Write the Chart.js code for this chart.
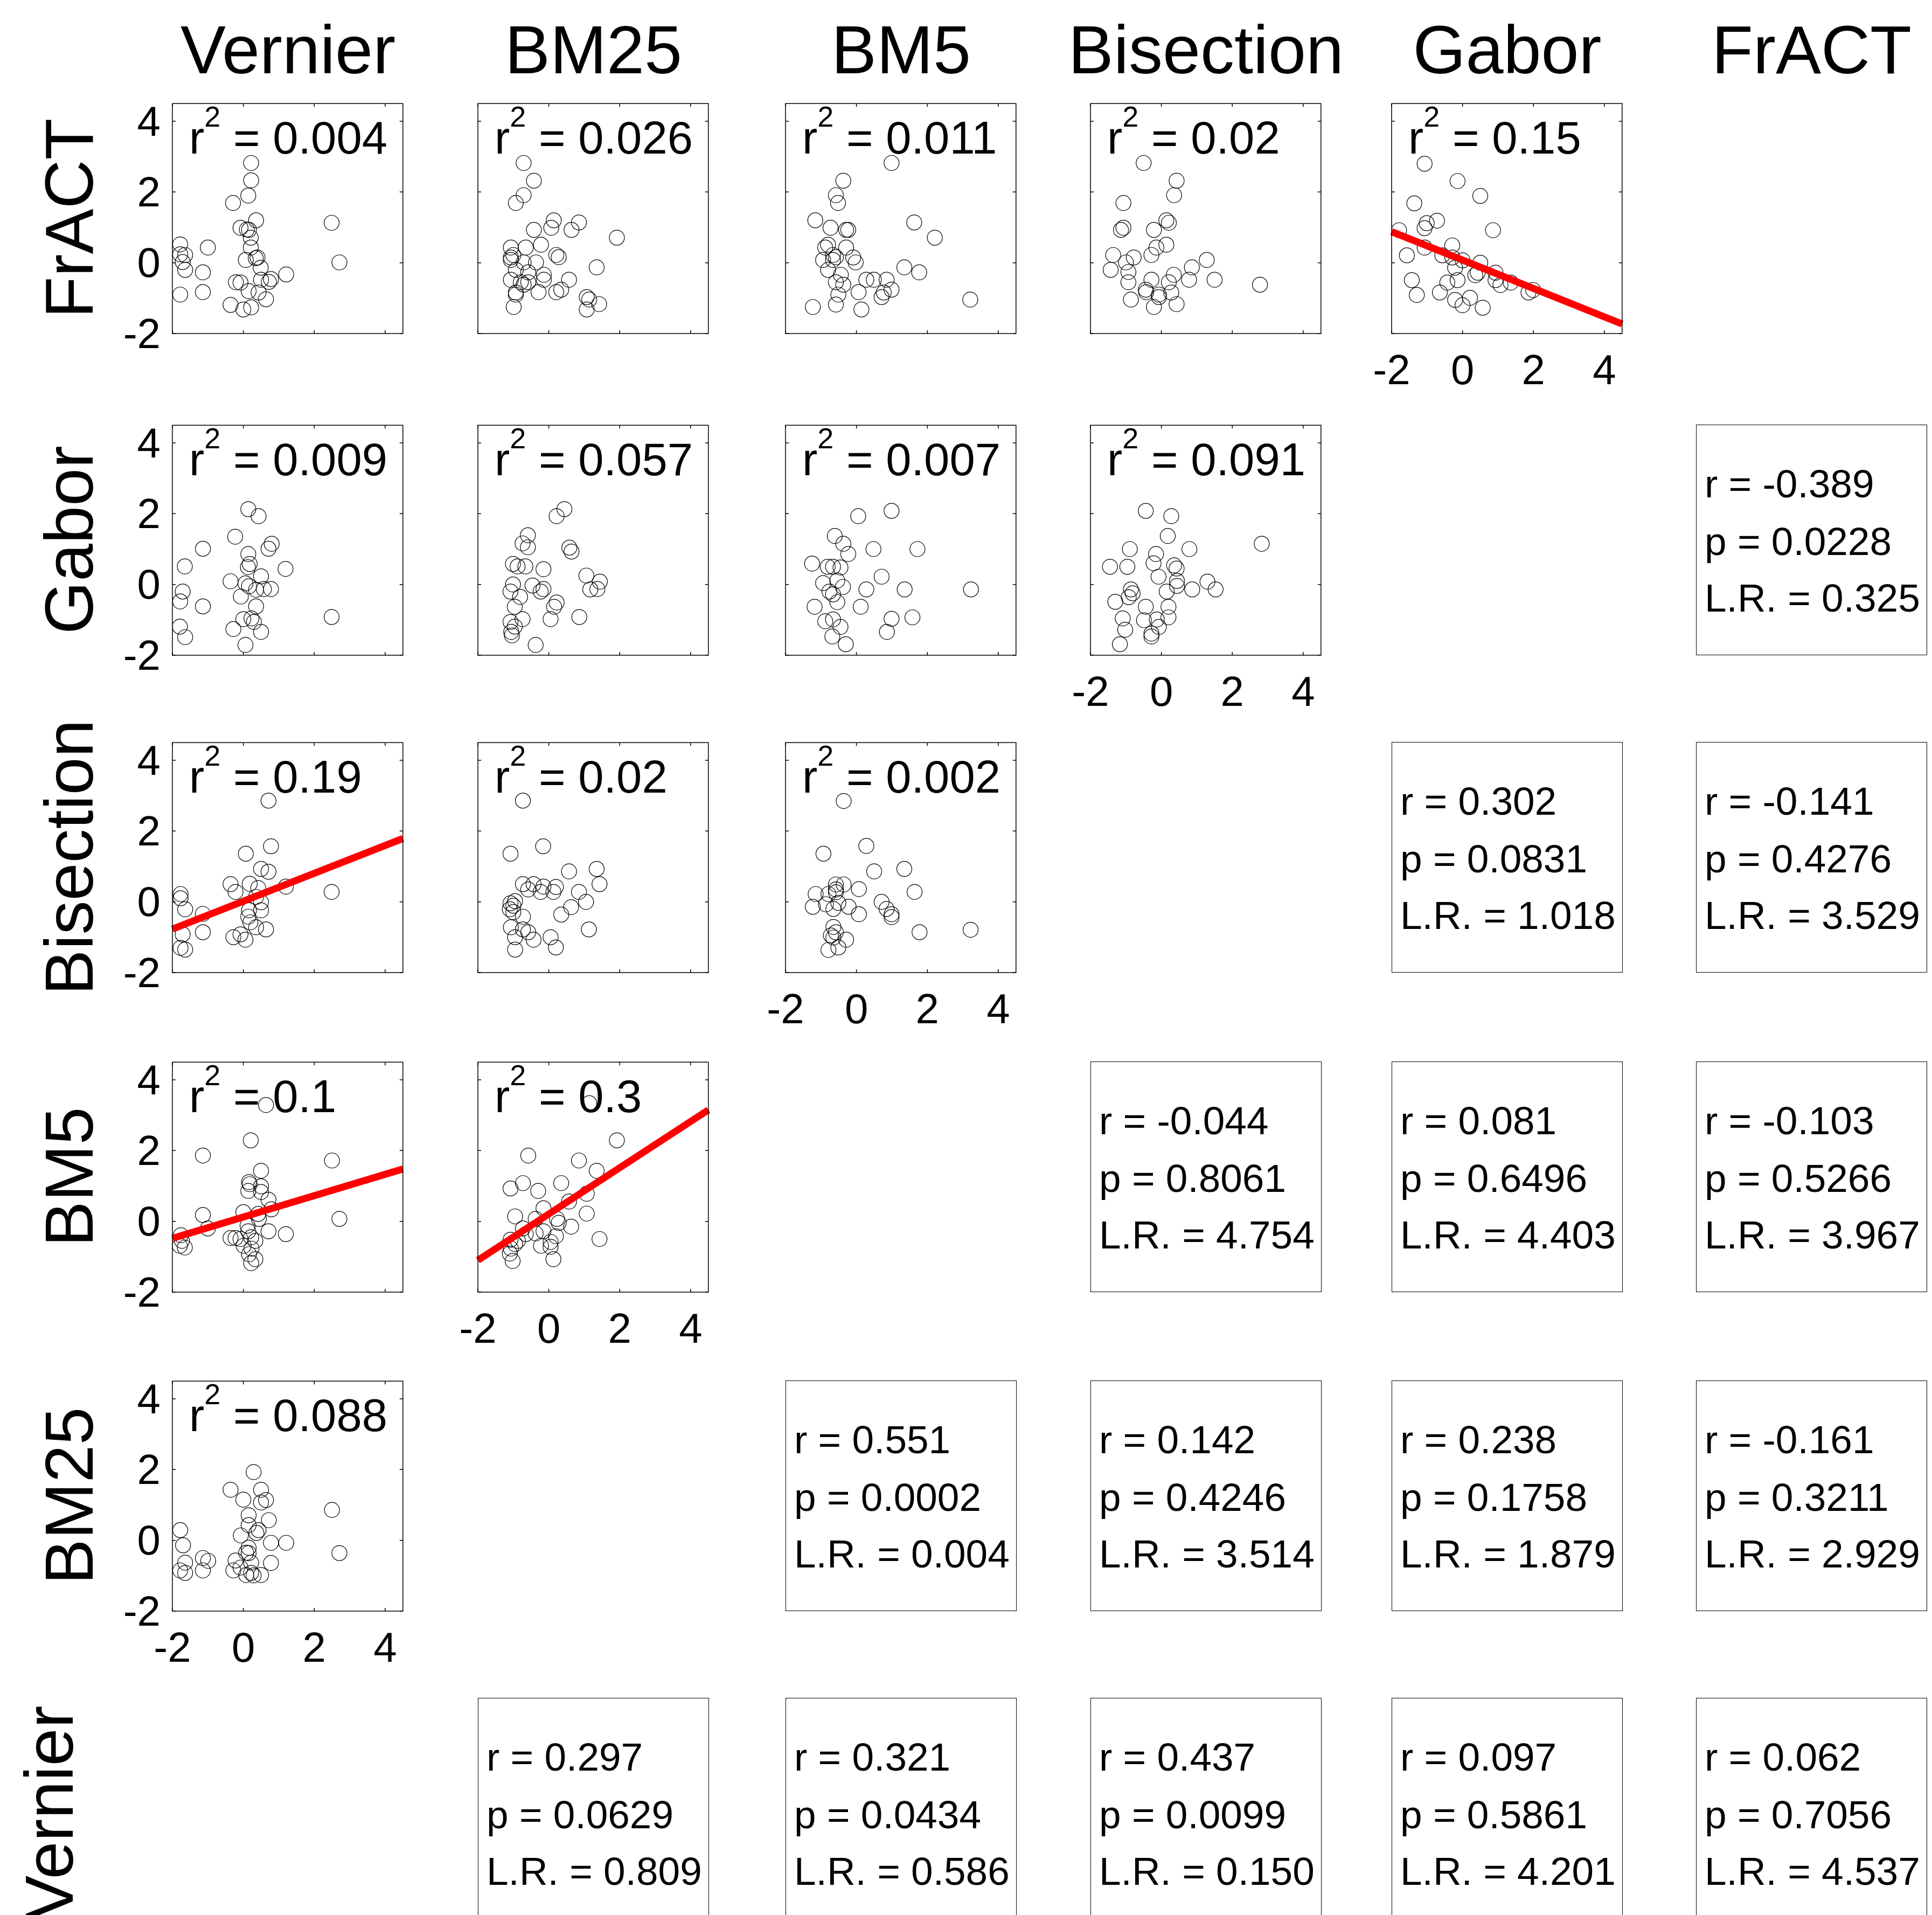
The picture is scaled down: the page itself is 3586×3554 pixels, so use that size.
<!DOCTYPE html>
<html>
<head>
<meta charset="utf-8">
<title>Correlations between tasks</title>
<script src="https://cdn.jsdelivr.net/npm/chart.js@4.4.1/dist/chart.umd.min.js"></script>
<style>
  html, body { margin: 0; padding: 0; background: #fff; }
  body { width: 3586px; height: 3554px; overflow: hidden; position: relative;
         font-family: 'Liberation Sans', Arial, sans-serif; color: #000; }
  .panel { position: absolute; }
  .title { position: absolute; top: 30px; width: 600px; font-size: 126px; line-height: 1;
           text-align: center; white-space: nowrap; }
  .rowLabel { position: absolute; width: 700px; height: 126px; font-size: 126px; line-height: 1;
              text-align: center; white-space: nowrap; transform: rotate(-90deg); }
  .r2 { position: absolute; font-size: 85px; line-height: 1; white-space: nowrap; }
  .r2 sup { font-size: 54px; vertical-align: baseline; position: relative; top: -50px; }
  .stats { position: absolute; box-sizing: border-box; width: 429px; height: 428px;
           border: 1.5px solid #000; }
  .stats div { position: absolute; left: 15px; font-size: 73px; line-height: 1; white-space: nowrap; }
</style>
</head>
<body>
<script>
// column variables (x) and row variables (y)
const colMeasures = ['Vernier', 'BM25', 'BM5', 'Bisection', 'Gabor', 'FrACT']
const rowMeasures = ['FrACT', 'Gabor', 'Bisection', 'BM5', 'BM25', 'Vernier']
const axisTicks = [-2, 0, 2, 4]

// scatter points [x, y] (z-scores)
const fractVernier = [[0.22,2.82],[0.22,2.33],[0.14,1.90],[-0.29,1.69],[0.36,1.20],[2.49,1.13],[-0.08,0.99],[0.10,0.94],[0.16,0.93],[0.21,0.71],[-1.78,0.52],[-1.00,0.43],[0.21,0.43],[-1.78,0.24],[-1.64,0.22],[0.40,0.15],[0.35,0.13],[0.07,0.08],[-1.71,0.02],[2.71,0.01],[0.49,-0.14],[-1.64,-0.20],[-1.14,-0.27],[1.21,-0.33],[0.50,-0.48],[0.78,-0.46],[0.72,-0.54],[-0.21,-0.55],[-0.08,-0.56],[0.15,-0.80],[0.43,-0.84],[-1.78,-0.90],[-1.14,-0.83],[0.64,-1.03],[-0.36,-1.19],[0.00,-1.32],[0.22,-1.26]]
const fractBm25 = [[-0.71,2.82],[-0.42,2.32],[-0.71,1.91],[-0.93,1.69],[0.14,1.20],[0.85,1.14],[0.07,0.99],[-0.42,0.93],[0.64,0.93],[1.92,0.71],[-1.07,0.43],[-0.65,0.43],[-0.22,0.51],[0.21,0.22],[0.28,0.16],[-1.00,0.22],[-1.07,0.15],[-1.07,0.08],[-0.71,0.01],[-0.36,0.01],[-0.93,-0.20],[-0.58,-0.27],[1.35,-0.13],[-0.14,-0.34],[-0.14,-0.48],[-1.07,-0.48],[-0.79,-0.55],[-0.58,-0.55],[-0.71,-0.62],[0.57,-0.48],[-0.93,-0.84],[-0.93,-0.90],[-0.29,-0.83],[0.21,-0.83],[0.35,-0.76],[1.07,-0.97],[1.14,-1.04],[1.42,-1.17],[1.07,-1.32],[-0.99,-1.25]]
const fractBm5 = [[0.99,2.82],[-0.37,2.32],[-0.58,1.91],[-0.52,1.69],[-1.16,1.20],[1.63,1.14],[-0.73,0.99],[-0.29,0.93],[-0.23,0.93],[2.21,0.71],[-0.80,0.51],[-0.88,0.43],[-0.29,0.43],[-0.66,0.22],[-0.58,0.16],[-0.94,0.08],[-0.66,0.08],[-0.09,0.15],[-0.02,0.01],[-0.80,-0.20],[1.35,-0.13],[1.77,-0.27],[-0.44,-0.34],[-0.58,-0.55],[-0.37,-0.62],[0.28,-0.48],[0.49,-0.48],[0.85,-0.48],[0.99,-0.76],[0.77,-0.84],[0.71,-0.97],[0.06,-0.83],[-0.51,-0.90],[-0.58,-1.18],[-1.23,-1.25],[0.14,-1.32],[3.21,-1.04]]
const fractBisection = [[-0.50,2.82],[0.43,2.32],[0.36,1.91],[-1.07,1.69],[0.14,1.20],[0.21,1.13],[-1.07,0.99],[-1.14,0.93],[-0.21,0.93],[0.14,0.51],[-0.14,0.43],[-0.28,0.22],[-1.36,0.22],[-0.78,0.15],[-1.00,0.01],[1.28,0.08],[-1.43,-0.20],[-0.93,-0.26],[0.86,-0.13],[0.35,-0.34],[-0.28,-0.48],[0.78,-0.48],[1.50,-0.48],[-0.93,-0.55],[0.21,-0.55],[2.78,-0.62],[-0.44,-0.76],[-0.43,-0.83],[0.28,-0.84],[-0.07,-0.90],[-0.07,-0.97],[-0.86,-1.04],[0.43,-1.17],[-0.21,-1.25]]
const fractGabor = [[-1.07,2.80],[-0.14,2.31],[0.50,1.89],[-1.36,1.68],[-1.01,1.12],[-0.72,1.19],[-1.07,0.98],[-1.79,0.92],[0.86,0.92],[-0.29,0.49],[-1.07,0.43],[-1.57,0.21],[-0.57,0.21],[-0.29,0.15],[0.00,0.07],[0.50,0.00],[-0.21,-0.14],[0.43,-0.28],[0.36,-0.35],[0.93,-0.28],[-1.43,-0.49],[-0.14,-0.49],[-0.43,-0.56],[0.93,-0.49],[1.07,-0.63],[1.36,-0.56],[1.86,-0.84],[1.99,-0.77],[-0.64,-0.84],[-1.29,-0.91],[0.21,-0.99],[-0.21,-1.05],[0.00,-1.20],[0.57,-1.27]]
const gaborVernier = [[0.14,2.13],[0.43,1.93],[-0.23,1.35],[-1.14,1.01],[0.80,1.15],[0.71,1.01],[0.14,0.86],[-1.65,0.51],[0.18,0.58],[0.13,0.49],[1.19,0.44],[0.50,0.23],[-0.36,0.09],[0.06,0.03],[0.16,-0.05],[-1.71,-0.20],[0.36,-0.15],[0.58,-0.13],[0.78,-0.13],[-0.07,-0.34],[-1.78,-0.48],[-1.14,-0.62],[0.36,-0.62],[2.49,-0.92],[0.00,-0.98],[0.23,-0.96],[0.30,-1.06],[-1.79,-1.19],[-0.28,-1.26],[0.50,-1.34],[-1.64,-1.49],[0.06,-1.71]]
const gaborBm25 = [[0.44,2.13],[0.22,1.93],[-0.59,1.39],[-0.74,1.16],[-0.59,1.05],[0.58,1.04],[0.64,0.93],[-1.01,0.58],[-0.88,0.51],[-0.66,0.51],[-0.15,0.43],[1.06,0.25],[1.44,0.08],[-1.01,0.00],[-0.46,-0.03],[-0.15,-0.13],[-0.23,-0.20],[1.17,-0.14],[1.37,-0.13],[-1.08,-0.20],[-0.81,-0.35],[0.22,-0.51],[0.15,-0.63],[-0.96,-0.63],[-0.74,-0.98],[0.05,-0.98],[0.86,-0.92],[-1.08,-1.06],[-0.96,-1.19],[-1.06,-1.34],[-1.04,-1.44],[-0.37,-1.71]]
const gaborBm5 = [[0.99,2.08],[0.05,1.93],[-0.61,1.37],[-0.37,1.15],[-0.23,0.86],[0.48,1.00],[1.72,1.00],[-1.25,0.59],[-0.81,0.50],[-0.66,0.50],[-0.45,0.48],[-0.54,0.11],[0.71,0.22],[-0.94,0.04],[-0.38,-0.07],[0.28,-0.14],[1.36,-0.14],[3.23,-0.14],[-0.76,-0.20],[-0.66,-0.28],[-0.54,-0.50],[-1.18,-0.63],[0.12,-0.63],[0.99,-0.97],[1.58,-0.93],[-0.88,-1.04],[-0.66,-0.99],[-0.45,-1.20],[0.86,-1.34],[-0.68,-1.47],[-0.30,-1.69]]
const gaborBisection = [[-0.44,2.08],[0.28,1.93],[2.83,1.15],[0.18,1.37],[-0.89,1.00],[0.79,1.00],[-0.15,0.86],[-1.45,0.50],[-0.96,0.50],[-0.22,0.60],[0.36,0.54],[0.43,0.45],[-0.08,0.22],[0.44,0.10],[0.44,-0.04],[1.30,0.08],[0.87,-0.14],[1.53,-0.14],[0.15,-0.20],[-0.86,-0.14],[-0.81,-0.25],[-0.92,-0.36],[-1.30,-0.49],[-0.44,-0.63],[0.20,-0.63],[0.20,-0.93],[-1.09,-0.96],[-0.49,-1.01],[-0.13,-0.99],[-0.07,-1.20],[-1.02,-1.28],[-0.28,-1.47],[-0.28,-1.39],[-1.17,-1.69]]
const bisectionVernier = [[0.71,2.86],[0.78,1.57],[0.07,1.36],[0.50,0.93],[0.71,0.85],[-0.36,0.50],[0.18,0.51],[1.20,0.43],[2.49,0.28],[0.42,0.39],[-0.22,0.28],[-1.77,0.22],[-1.77,0.10],[0.36,0.14],[0.50,-0.01],[-1.64,-0.21],[-1.14,-0.34],[0.16,-0.24],[0.50,-0.24],[0.14,-0.42],[0.20,-0.58],[0.36,-0.72],[0.64,-0.78],[-1.71,-0.92],[-1.14,-0.86],[-0.28,-1.00],[-0.08,-0.92],[0.06,-1.07],[-1.77,-1.30],[-1.64,-1.35]]
const bisectionBm25 = [[-0.73,2.86],[-0.16,1.57],[-1.08,1.36],[0.57,0.86],[1.35,0.93],[1.43,0.50],[-0.73,0.50],[-0.43,0.50],[-0.15,0.43],[0.20,0.42],[-0.58,0.35],[-0.23,0.28],[0.13,0.28],[0.85,0.28],[-0.95,0.02],[1.05,0.00],[-1.08,-0.04],[-1.00,-0.11],[-1.10,-0.21],[-1.00,-0.29],[0.63,-0.15],[0.35,-0.36],[-0.73,-0.42],[-1.07,-0.72],[-0.73,-0.78],[1.13,-0.78],[-0.95,-1.00],[-0.58,-0.86],[-0.43,-1.07],[0.05,-1.00],[0.20,-1.29],[-0.95,-1.35]]
const bisectionBm5 = [[-0.36,2.85],[0.28,1.58],[-0.93,1.36],[0.50,0.86],[1.35,0.93],[1.64,0.28],[-0.58,0.49],[-0.36,0.49],[-0.58,0.35],[0.07,0.36],[-1.15,0.22],[-0.79,0.22],[-0.58,0.27],[-0.51,-0.03],[-1.23,-0.14],[-0.86,-0.07],[-0.65,-0.20],[-0.22,-0.14],[0.07,-0.35],[0.71,0.00],[0.85,-0.20],[0.99,-0.35],[0.99,-0.43],[-0.65,-0.71],[-0.58,-0.86],[-0.72,-0.95],[-0.65,-1.01],[-0.29,-1.07],[-0.51,-1.29],[-0.79,-1.36],[1.78,-0.86],[3.22,-0.79]]
const bm5Vernier = [[0.64,3.29],[0.21,2.29],[-1.14,1.86],[2.50,1.72],[0.50,1.43],[0.16,1.11],[0.18,1.05],[0.50,0.99],[0.14,0.86],[0.50,0.83],[0.71,0.61],[0.79,0.34],[0.00,0.26],[-1.14,0.18],[0.42,0.21],[2.71,0.07],[0.44,0.07],[-1.00,-0.20],[0.12,-0.12],[0.14,-0.28],[0.71,-0.28],[1.20,-0.36],[-1.76,-0.39],[-0.36,-0.47],[-0.22,-0.47],[-0.08,-0.50],[0.22,-0.45],[0.34,-0.55],[-1.73,-0.55],[-1.79,-0.69],[-1.65,-0.74],[0.01,-0.69],[0.23,-0.77],[0.16,-0.93],[0.34,-1.07],[0.22,-1.18]]
const bm5Bm25 = [[1.14,3.34],[1.92,2.29],[-0.58,1.86],[0.85,1.72],[1.35,1.43],[-0.73,1.08],[0.35,1.08],[-1.08,0.93],[-0.30,0.86],[1.07,0.78],[0.57,0.56],[-0.15,0.37],[1.07,0.22],[-0.95,0.14],[-0.37,0.07],[0.23,0.07],[0.28,-0.04],[0.63,-0.15],[-0.73,-0.20],[-0.15,-0.28],[-0.37,-0.34],[-0.65,-0.36],[0.20,-0.42],[1.43,-0.50],[-1.08,-0.52],[-0.87,-0.55],[-0.95,-0.64],[0.05,-0.58],[-0.22,-0.69],[0.05,-0.72],[-1.07,-0.77],[-1.10,-0.91],[0.13,-1.07],[-1.02,-1.12]]
const bm25Vernier = [[0.29,1.93],[-0.36,1.43],[0.50,1.43],[0.00,1.15],[0.64,1.14],[0.50,1.07],[2.50,0.86],[0.15,0.71],[0.72,0.57],[0.15,0.43],[-1.78,0.29],[0.43,0.29],[0.37,0.21],[-0.07,0.14],[0.78,-0.07],[1.21,-0.07],[-1.70,-0.14],[0.15,-0.21],[0.08,-0.35],[2.71,-0.36],[0.15,-0.36],[-1.14,-0.50],[-0.99,-0.58],[-1.64,-0.63],[-0.22,-0.57],[0.22,-0.63],[0.78,-0.64],[-0.08,-0.77],[-0.28,-0.85],[-1.78,-0.85],[-1.64,-0.92],[-1.14,-0.85],[0.22,-0.92],[0.08,-0.98],[0.29,-0.99],[0.50,-0.98]]

// regression lines drawn where the fit is shown: [x, y] at both axis ends
const fitFractGabor = [[-2, 0.88], [4.5, -1.73]]
const fitBisectionVernier = [[-2, -0.77], [4.5, 1.79]]
const fitBm5Vernier = [[-2, -0.48], [4.5, 1.48]]
const fitBm5Bm25 = [[-2, -1.1], [4.5, 3.15]]

// r squared labels, by row then column
const r2Labels = [
  ['0.004', '0.026', '0.011', '0.02', '0.15'],
  ['0.009', '0.057', '0.007', '0.091'],
  ['0.19', '0.02', '0.002'],
  ['0.1', '0.3'],
  ['0.088']
]

// statistics in the lower triangle (row, column)
const statR = [
  [null, null, null, null, null, null],
  [null, null, null, null, null, '-0.389'],
  [null, null, null, null, '0.302', '-0.141'],
  [null, null, null, '-0.044', '0.081', '-0.103'],
  [null, null, '0.551', '0.142', '0.238', '-0.161'],
  [null, '0.297', '0.321', '0.437', '0.097', '0.062']
]
const statP = [
  [null, null, null, null, null, null],
  [null, null, null, null, null, '0.0228'],
  [null, null, null, null, '0.0831', '0.4276'],
  [null, null, null, '0.8061', '0.6496', '0.5266'],
  [null, null, '0.0002', '0.4246', '0.1758', '0.3211'],
  [null, '0.0629', '0.0434', '0.0099', '0.5861', '0.7056']
]
const statLR = [
  [null, null, null, null, null, null],
  [null, null, null, null, null, '0.325'],
  [null, null, null, null, '1.018', '3.529'],
  [null, null, null, '4.754', '4.403', '3.967'],
  [null, null, '0.004', '3.514', '1.879', '2.929'],
  [null, '0.809', '0.586', '0.150', '4.201', '4.537']
]

const scatterPanels = [
  [fractVernier, fractBm25, fractBm5, fractBisection, fractGabor],
  [gaborVernier, gaborBm25, gaborBm5, gaborBisection],
  [bisectionVernier, bisectionBm25, bisectionBm5],
  [bm5Vernier, bm5Bm25],
  [bm25Vernier]
]
const fitLines = { '0,4': fitFractGabor, '2,0': fitBisectionVernier, '3,0': fitBm5Vernier, '3,1': fitBm5Bm25 }

// page layout
const colLeft = [320, 887, 1458, 2024, 2583, 3148]
const rowTop = [191, 788, 1377, 1970, 2562, 3151]
const rowLabelX = [129, 129, 129, 129, 129, 92]
const PANEL_W = 429
const PANEL_H = 428
const PAD_L = 130
const PAD_B = 120
const PAD_T = 14
const PAD_R = 14
const TICK_LEN = 6
const tickFont = { family: "'Liberation Sans', Arial, sans-serif", size: 78 }

const boxPlugin = {
  id: 'matlabBox',
  afterDraw(chart) {
    const { ctx, chartArea: a, scales } = chart
    ctx.save()
    ctx.strokeStyle = '#000'
    ctx.lineWidth = 1.5
    ctx.strokeRect(a.left, a.top, a.right - a.left, a.bottom - a.top)
    ctx.beginPath()
    axisTicks.forEach(v => {
      const px = scales.x.getPixelForValue(v)
      ctx.moveTo(px, a.bottom); ctx.lineTo(px, a.bottom - TICK_LEN)
      ctx.moveTo(px, a.top); ctx.lineTo(px, a.top + TICK_LEN)
      const py = scales.y.getPixelForValue(v)
      ctx.moveTo(a.left, py); ctx.lineTo(a.left + TICK_LEN, py)
      ctx.moveTo(a.right, py); ctx.lineTo(a.right - TICK_LEN, py)
    })
    ctx.stroke()
    ctx.restore()
  }
}

function axisOptions(showLabels, horizontal) {
  return {
    type: 'linear',
    min: -2,
    max: 4.5,
    afterBuildTicks: s => { s.ticks = axisTicks.map(v => ({ value: v })) },
    afterFit: s => {
      if (horizontal) s.height = PAD_B
      else s.width = PAD_L
      s.paddingLeft = 0; s.paddingRight = 0; s.paddingTop = 0; s.paddingBottom = 0
    },
    grid: { display: false, drawTicks: false },
    border: { display: false },
    ticks: {
      display: showLabels,
      padding: horizontal ? 26 : 22,
      labelOffset: horizontal ? 0 : 5,
      color: '#000',
      font: tickFont,
      maxRotation: 0,
      autoSkip: false
    }
  }
}

function scatterPanel(row, col, points) {
  const wrap = document.createElement('div')
  wrap.className = 'panel'
  wrap.style.left = (colLeft[col] - PAD_L) + 'px'
  wrap.style.top = (rowTop[row] - PAD_T) + 'px'
  const canvas = document.createElement('canvas')
  canvas.width = PAD_L + PANEL_W + PAD_R
  canvas.height = PAD_T + PANEL_H + PAD_B
  wrap.appendChild(canvas)
  document.body.appendChild(wrap)

  const datasets = []
  const fit = fitLines[row + ',' + col]
  if (fit) {
    datasets.push({
      data: fit,
      showLine: true,
      borderColor: '#ff0000',
      borderWidth: 13,
      pointRadius: 0,
      clip: false
    })
  }
  datasets.push({
    data: points,
    showLine: false,
    pointStyle: 'circle',
    pointRadius: 14,
    pointBorderColor: '#000',
    pointBackgroundColor: 'rgba(0,0,0,0)',
    pointBorderWidth: 1.2
  })

  /* eslint-disable no-undef */
  new Chart(canvas, {
    type: 'scatter',
    data: { datasets },
    options: {
      responsive: false,
      animation: false,
      devicePixelRatio: 1,
      events: [],
      layout: { padding: { top: PAD_T, right: PAD_R, left: 0, bottom: 0 } },
      plugins: { legend: { display: false }, tooltip: { enabled: false } },
      scales: {
        x: axisOptions(row + col === 4, true),
        y: axisOptions(col === 0, false)
      }
    },
    plugins: [boxPlugin]
  })
}

function addText(className, html, style) {
  const el = document.createElement('div')
  el.className = className
  el.innerHTML = html
  Object.assign(el.style, style)
  document.body.appendChild(el)
  return el
}

// column titles and row labels
colMeasures.forEach((name, j) => {
  addText('title', name, { left: (colLeft[j] + PANEL_W / 2 - 300) + 'px' })
})
rowMeasures.forEach((name, i) => {
  addText('rowLabel', name, {
    left: (rowLabelX[i] - 350) + 'px',
    top: (rowTop[i] + PANEL_H / 2 - 63) + 'px'
  })
})

// upper-left triangle: scatter plots
scatterPanels.forEach((rowPanels, i) => {
  rowPanels.forEach((points, j) => scatterPanel(i, j, points))
})
scatterPanels.forEach((rowPanels, i) => {
  rowPanels.forEach((points, j) => {
    addText('r2', 'r<sup>2</sup> = ' + r2Labels[i][j], {
      left: (colLeft[j] + 31) + 'px',
      top: (rowTop[i] + 22) + 'px'
    })
  })
})

// lower-right triangle: statistics boxes
statR.forEach((rowVals, i) => {
  rowVals.forEach((r, j) => {
    if (r === null) return
    const box = addText('stats', '', { left: colLeft[j] + 'px', top: rowTop[i] + 'px' })
    const lines = ['r = ' + r, 'p = ' + statP[i][j], 'L.R. = ' + statLR[i][j]]
    const tops = [72, 179, 284]
    lines.forEach((t, k) => {
      const line = document.createElement('div')
      line.textContent = t
      line.style.top = tops[k] + 'px'
      box.appendChild(line)
    })
  })
})
</script>
</body>
</html>
